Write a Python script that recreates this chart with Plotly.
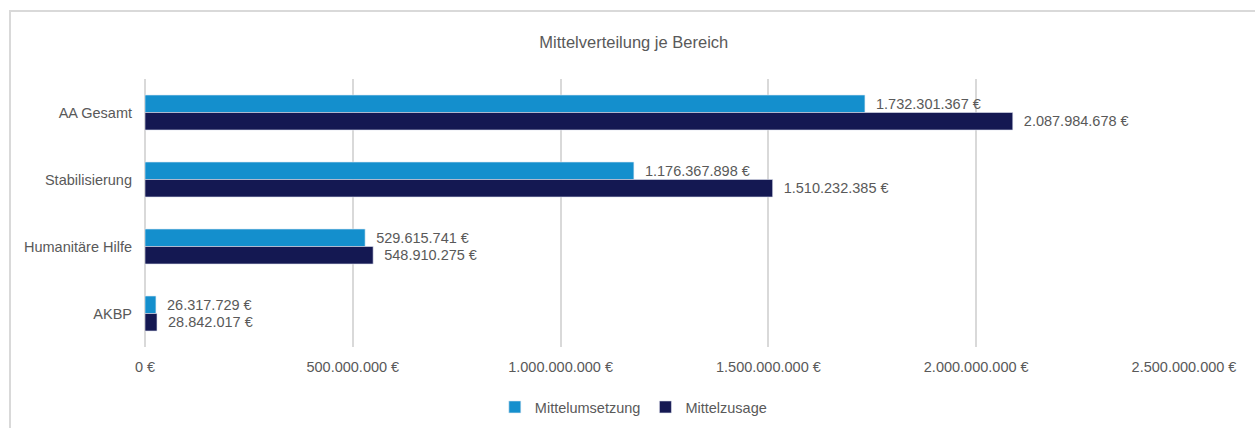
import plotly.graph_objects as go

categories = ["AA Gesamt", "Stabilisierung", "Humanitäre Hilfe", "AKBP"]
mittelumsetzung = [1732301367, 1176367898, 529615741, 26317729]
mittelzusage = [2087984678, 1510232385, 548910275, 28842017]
tick_values = [0, 500000000, 1000000000, 1500000000, 2000000000, 2500000000]


def euro(v):
    return f"{v:,.0f}".replace(",", ".") + " €"


tick_text = [euro(v) for v in tick_values]

FONT = "Liberation Sans, Arial, sans-serif"
SIZE = 14.5
GRAY = "#595959"
GRID = "#d9d9d9"

fig = go.Figure()
fig.add_trace(go.Bar(
    y=categories, x=mittelumsetzung, orientation="h", name="Mittelumsetzung",
    marker=dict(color="#148fcd", line=dict(width=0.6, color="#dfe9f3")),
    texttemplate="  %{x:,.0f} €", textposition="outside", cliponaxis=False,
    constraintext="none",
    textfont=dict(family=FONT, size=SIZE, color=GRAY),
))
fig.add_trace(go.Bar(
    y=categories, x=mittelzusage, orientation="h", name="Mittelzusage",
    marker=dict(color="#141852", line=dict(width=0.6, color="#dfe3ee")),
    texttemplate="  %{x:,.0f} €", textposition="outside", cliponaxis=False,
    constraintext="none",
    textfont=dict(family=FONT, size=SIZE, color=GRAY),
))

fig.update_layout(
    width=1255, height=428,
    margin=dict(l=145, r=71, t=79, b=81, autoexpand=False),
    paper_bgcolor="white", plot_bgcolor="white",
    separators=",.",
    barmode="group", bargap=0.478, bargroupgap=0,
    font=dict(family=FONT, size=SIZE, color=GRAY),
    title=dict(text="Mittelverteilung je Bereich", x=0.505, xanchor="center",
               y=1 - 42 / 428, yanchor="middle", yref="container",
               font=dict(family=FONT, size=16.5, color=GRAY)),
    legend=dict(orientation="h", x=0.47, xanchor="center", y=-0.224, yanchor="middle",
                font=dict(family=FONT, size=SIZE, color=GRAY), itemwidth=30,
                traceorder="normal"),
    xaxis=dict(range=[0, 2500000000], tickvals=tick_values, ticktext=tick_text,
               showgrid=True, gridcolor=GRID, gridwidth=1.5,
               zeroline=True, zerolinecolor=GRID, zerolinewidth=1.5,
               showline=False, ticks="", ticklabelstandoff=9, automargin=False,
               tickfont=dict(family=FONT, size=SIZE, color=GRAY)),
    yaxis=dict(autorange="reversed", showgrid=False, showline=False, ticks="",
               ticklabelstandoff=12, automargin=False,
               tickfont=dict(family=FONT, size=SIZE, color=GRAY)),
    showlegend=True,
)

fig.add_shape(type="rect", xref="paper", yref="paper",
              x0=(10 - 145) / 1039, x1=1.2, y0=-0.5, y1=(347 - 11) / 268,
              line=dict(color=GRID, width=2), fillcolor="rgba(0,0,0,0)", layer="below")

fig.write_html("out.html", config={"displayModeBar": False},
               post_script="document.body.style.margin='0';document.body.style.padding='0';")
